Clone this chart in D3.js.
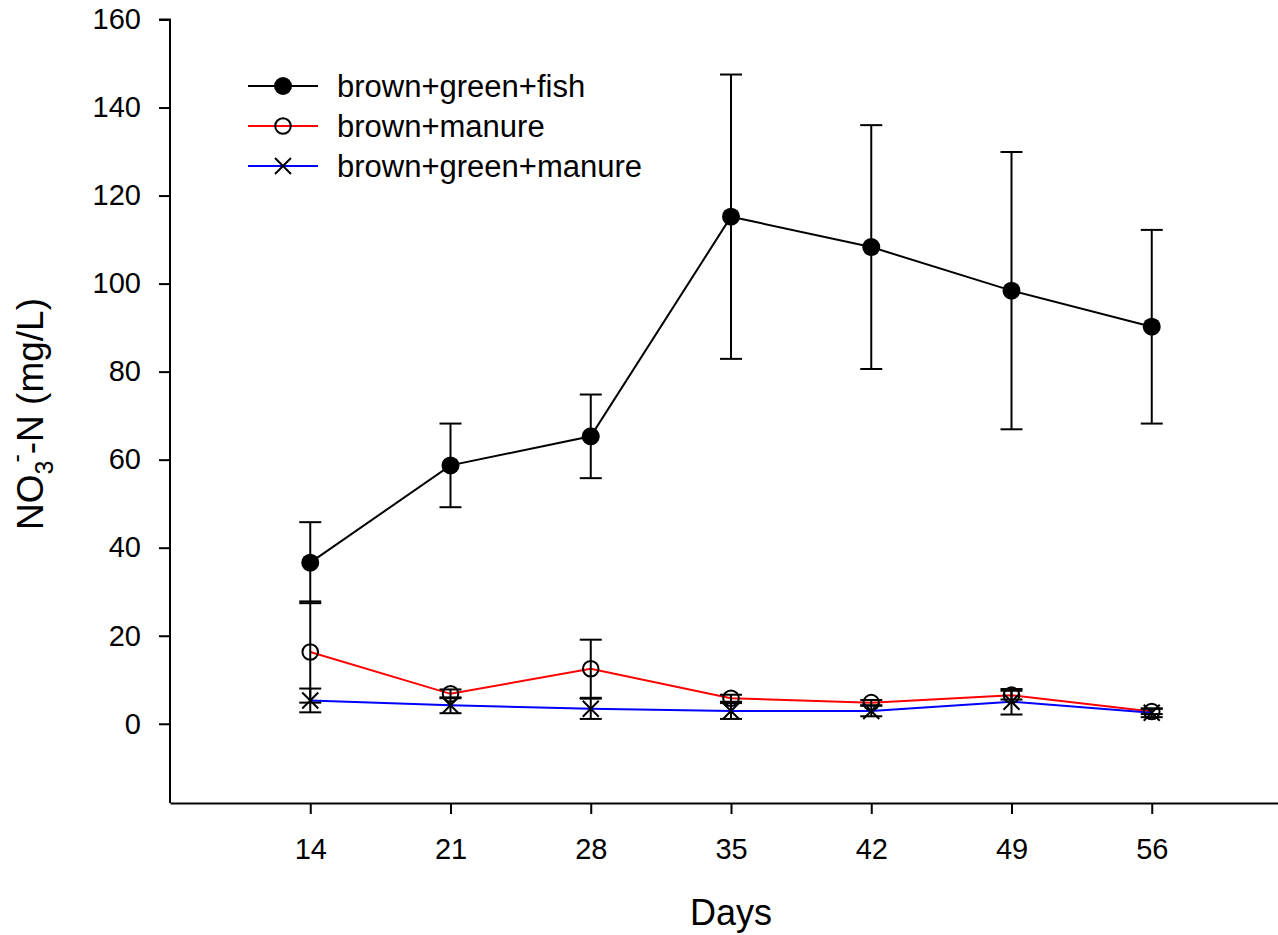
<!DOCTYPE html>
<html>
<head>
<meta charset="utf-8">
<script src="https://cdn.jsdelivr.net/npm/d3@7"></script>
<style>
  html, body { margin: 0; padding: 0; background: #fff; }
  svg { display: block; font-family: "Liberation Sans", Arial, sans-serif; }
</style>
</head>
<body>
<svg id="chart" width="1278" height="935"></svg>
<script>
// Sampling days
const days = [14, 21, 28, 35, 42, 49, 56];

// NO3--N means and standard errors (mg/L) per treatment
const fishMean   = [36.6, 58.7, 65.3, 115.2, 108.3, 98.4, 90.2];
const fishErr    = [9.2, 9.5, 9.5, 32.3, 27.7, 31.5, 22.0];
const manureMean = [16.3, 6.8, 12.5, 5.8, 4.8, 6.5, 2.8];
const manureErr  = [11.5, 1.0, 6.6, 0.8, 0.6, 1.0, 0.6];
const blendMean  = [5.3, 4.2, 3.4, 2.9, 2.9, 5.0, 2.5];
const blendErr   = [2.7, 1.8, 2.3, 1.8, 1.2, 2.9, 1.0];

const xTicks = [14, 21, 28, 35, 42, 49, 56];
const yTicks = [0, 20, 40, 60, 80, 100, 120, 140, 160];

const seriesNames = ["brown+green+fish", "brown+manure", "brown+green+manure"];
const seriesColors = ["#000000", "#ff0000", "#0000ff"];
const seriesSymbols = ["filled", "open", "cross"];

const svg = d3.select("#chart");

const x = d3.scaleLinear().domain([7, 63]).range([170, 1292]);
const y = d3.scaleLinear().domain([-18, 160]).range([803, 19.5]);

// Axes (left and bottom only)
const xAxis = d3.axisBottom(x).tickValues(xTicks).tickSize(11).tickSizeOuter(0).tickPadding(24);
const yAxis = d3.axisLeft(y).tickValues(yTicks).tickSize(11).tickSizeOuter(0).tickPadding(18);

const gx = svg.append("g").attr("transform", `translate(0,${y.range()[0]})`).call(xAxis);
const gy = svg.append("g").attr("transform", `translate(${x.range()[0]},0)`).call(yAxis);

[gx, gy].forEach(g => {
  g.attr("font-size", 29).attr("font-family", "Liberation Sans, Arial, sans-serif");
  g.select(".domain").attr("stroke", "#000").attr("stroke-width", 2);
  g.selectAll(".tick line").attr("stroke", "#000").attr("stroke-width", 2);
  g.selectAll(".tick text").attr("fill", "#000");
});
// Close the top of the y axis with a short tick at 160
gy.select(".domain").attr("d", `M-11,${y(160)}H0V${y(-18)}`);

// Axis titles
svg.append("text")
  .attr("x", 731).attr("y", 925)
  .attr("text-anchor", "middle")
  .attr("font-size", 36)
  .text("Days");

const yl = svg.append("text")
  .attr("transform", "translate(43,414) rotate(-90)")
  .attr("text-anchor", "middle")
  .attr("font-size", 37);
yl.append("tspan").text("NO");
yl.append("tspan").attr("font-size", 25).attr("dy", 10).text("3");
yl.append("tspan").attr("font-size", 25).attr("dy", -28).attr("dx", -2).text("-");
yl.append("tspan").attr("dy", 18).text("-N (mg/L)");

const series = [
  { mean: fishMean, err: fishErr },
  { mean: manureMean, err: manureErr },
  { mean: blendMean, err: blendErr }
];

const line = d3.line().x((d, i) => x(days[i])).y(d => y(d));

// Connecting lines
series.forEach((s, k) => {
  svg.append("path")
    .datum(s.mean)
    .attr("fill", "none")
    .attr("stroke", seriesColors[k])
    .attr("stroke-width", 2)
    .attr("d", line);
});

// Error bars
const capHalf = 11;
series.forEach((s, k) => {
  const g = svg.append("g").attr("stroke", "#000").attr("stroke-width", 2);
  s.mean.forEach((m, i) => {
    const cx = x(days[i]);
    const top = y(m + s.err[i]);
    const bot = y(m - s.err[i]);
    g.append("line").attr("x1", cx).attr("x2", cx).attr("y1", top).attr("y2", bot);
    g.append("line").attr("x1", cx - capHalf).attr("x2", cx + capHalf).attr("y1", top).attr("y2", top);
    g.append("line").attr("x1", cx - capHalf).attr("x2", cx + capHalf).attr("y1", bot).attr("y2", bot);
  });
});

function drawSymbol(g, type, cx, cy) {
  if (type === "filled") {
    g.append("circle").attr("cx", cx).attr("cy", cy).attr("r", 9).attr("fill", "#000");
  } else if (type === "open") {
    g.append("circle").attr("cx", cx).attr("cy", cy).attr("r", 7.8)
      .attr("fill", "none").attr("stroke", "#000").attr("stroke-width", 2);
  } else {
    const h = 8;
    g.append("path")
      .attr("d", `M${cx - h},${cy - h}L${cx + h},${cy + h}M${cx - h},${cy + h}L${cx + h},${cy - h}`)
      .attr("stroke", "#000").attr("stroke-width", 2).attr("fill", "none");
  }
}

// Markers
series.forEach((s, k) => {
  const g = svg.append("g");
  s.mean.forEach((m, i) => drawSymbol(g, seriesSymbols[k], x(days[i]), y(m)));
});

// Legend
const legend = svg.append("g");
seriesNames.forEach((name, k) => {
  const ly = 86 + k * 40;
  legend.append("line")
    .attr("x1", 248).attr("x2", 318).attr("y1", ly).attr("y2", ly)
    .attr("stroke", seriesColors[k]).attr("stroke-width", 2);
  drawSymbol(legend, seriesSymbols[k], 283, ly);
  legend.append("text")
    .attr("x", 337).attr("y", ly + 11)
    .attr("font-size", 31)
    .text(name);
});
</script>
</body>
</html>
